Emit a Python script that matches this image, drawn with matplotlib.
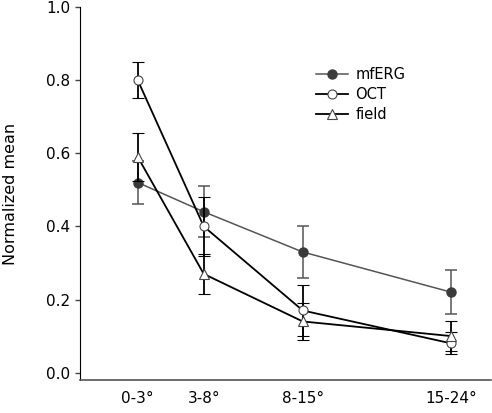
import matplotlib
matplotlib.use("Agg")
import matplotlib.pyplot as plt

# eccentricity bins (x placed at bin centres)
labels = ["0-3°", "3-8°", "8-15°", "15-24°"]
ecc = [1.5, 5.5, 11.5, 20.5]

mferg = [0.52, 0.44, 0.33, 0.22]
mferg_err = [0.06, 0.07, 0.07, 0.06]
oct_ = [0.80, 0.40, 0.17, 0.08]
oct_err = [0.05, 0.08, 0.07, 0.03]
field = [0.59, 0.27, 0.14, 0.10]
field_err = [0.066, 0.055, 0.05, 0.04]

plt.rcParams['font.family'] = ['DejaVu Sans']
fig = plt.figure(figsize=(4.92, 4.13), dpi=100)
ax = fig.add_axes([0.1626, 0.08, 0.835, 0.903])

ax.errorbar(ecc, mferg, yerr=mferg_err, color='#555555', lw=1.1, marker='o',
            ms=6.5, mfc='#3a3a3a', mec='#3a3a3a', capsize=4, elinewidth=1.1,
            capthick=1.1, label='mfERG', zorder=2)
ax.errorbar(ecc, oct_, yerr=oct_err, color='black', lw=1.3, marker='o',
            ms=6.5, mfc='white', mec='#444444', mew=0.8, capsize=4,
            elinewidth=1.3, capthick=1.3, label='OCT', zorder=3)
ax.errorbar(ecc, field, yerr=field_err, color='black', lw=1.3, marker='^',
            ms=7, mfc='white', mec='#444444', mew=0.8, capsize=4,
            elinewidth=1.3, capthick=1.3, label='field', zorder=3)

ax.set_xlim(-2.0, 22.9)
ax.set_ylim(-0.02, 1.0)
ax.set_yticks([0.0, 0.2, 0.4, 0.6, 0.8, 1.0])
ax.set_yticklabels(["0.0", "0.2", "0.4", "0.6", "0.8", "1.0"])
ax.set_xticks(ecc)
ax.set_xticklabels(labels)
ax.tick_params(axis='x', length=0, pad=8, labelsize=11)
ax.tick_params(axis='y', length=3.5, width=1, color='#444444', labelsize=11)
ax.spines['top'].set_visible(False)
ax.spines['right'].set_visible(False)
ax.spines['left'].set_color('black')
ax.spines['bottom'].set_color('#555555')
ax.spines['bottom'].set_linewidth(1.2)
ax.spines['left'].set_bounds(-0.02, 1.0)
ax.set_ylabel("Normalized mean", fontsize=11.5, labelpad=20)

handles, labs = ax.get_legend_handles_labels()
handles = [h[0] for h in handles]
ax.legend(handles, labs, loc='upper left', bbox_to_anchor=(0.56, 0.855),
          frameon=False, fontsize=10.5, handlelength=2.2, handletextpad=0.5,
          labelspacing=0.35, borderaxespad=0)

fig.savefig("out.png", dpi=100)
